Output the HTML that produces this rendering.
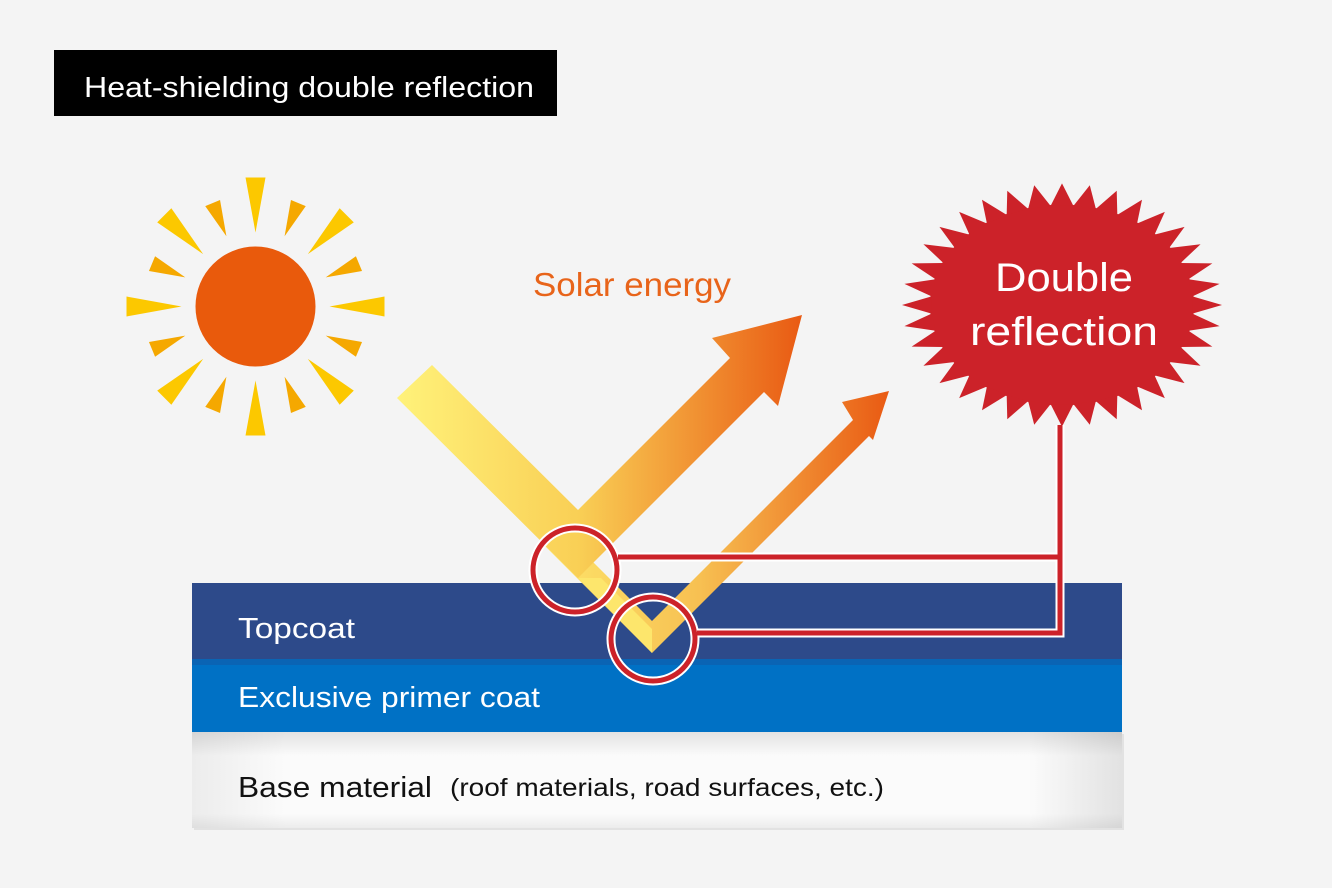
<!DOCTYPE html>
<html><head><meta charset="utf-8"><style>
html,body{margin:0;padding:0;background:#f4f4f4;}
svg{display:block;font-family:"Liberation Sans",sans-serif;}
</style></head><body>
<svg width="1332" height="888" viewBox="0 0 1332 888" xmlns="http://www.w3.org/2000/svg">
<defs>
<linearGradient id="ag" x1="0" y1="0" x2="1" y2="0">
<stop offset="0" stop-color="#fff27a"/><stop offset="0.45" stop-color="#f9cf55"/><stop offset="1" stop-color="#e95a13"/>
</linearGradient>
<linearGradient id="ag2" x1="0" y1="0" x2="1" y2="0">
<stop offset="0" stop-color="#fde46a"/><stop offset="0.45" stop-color="#f7c052"/><stop offset="1" stop-color="#e95a13"/>
</linearGradient>
<linearGradient id="bg" x1="0" y1="0" x2="1" y2="0">
<stop offset="0" stop-color="#ececec"/><stop offset="0.1" stop-color="#fbfbfb"/><stop offset="0.9" stop-color="#fbfbfb"/><stop offset="1" stop-color="#e2e2e2"/>
</linearGradient>
<linearGradient id="bgv" x1="0" y1="0" x2="0" y2="1">
<stop offset="0" stop-color="#000" stop-opacity="0.1"/><stop offset="0.25" stop-color="#000" stop-opacity="0"/><stop offset="0.85" stop-color="#000" stop-opacity="0"/><stop offset="1" stop-color="#000" stop-opacity="0.06"/>
</linearGradient>
<polygon id="spk" points="130.4,-11.4 160,0 130.4,11.4"/>
<polygon id="lr" points="-10,-129 10,-129 0,-74"/>
<polygon id="sr" points="-8,-112 8,-112 0,-76"/>
</defs>
<rect width="1332" height="888" fill="#f4f4f4"/>
<rect x="54" y="50" width="503" height="66" fill="#000"/>
<text x="84" y="97" fill="#fff" font-size="29" textLength="450" lengthAdjust="spacingAndGlyphs">Heat-shielding double reflection</text>
<g transform="translate(255.5,306.5)">
<g fill="#fcc800">
<use href="#lr" transform="rotate(0)"/><use href="#lr" transform="rotate(45)"/><use href="#lr" transform="rotate(90)"/><use href="#lr" transform="rotate(135)"/>
<use href="#lr" transform="rotate(180)"/><use href="#lr" transform="rotate(225)"/><use href="#lr" transform="rotate(270)"/><use href="#lr" transform="rotate(315)"/>
</g>
<g fill="#f5a800">
<use href="#sr" transform="rotate(22.5)"/><use href="#sr" transform="rotate(67.5)"/><use href="#sr" transform="rotate(112.5)"/><use href="#sr" transform="rotate(157.5)"/>
<use href="#sr" transform="rotate(202.5)"/><use href="#sr" transform="rotate(247.5)"/><use href="#sr" transform="rotate(292.5)"/><use href="#sr" transform="rotate(337.5)"/>
</g>
<circle r="60" fill="#e95a0c"/>
</g>
<text x="533" y="296" fill="#e8641a" font-size="33" textLength="198" lengthAdjust="spacingAndGlyphs">Solar energy</text>
<g transform="translate(1062,305) scale(1,0.76)" fill="#cc2229">
<circle r="132"/>
<use href="#spk" transform="rotate(0)"/><use href="#spk" transform="rotate(10)"/><use href="#spk" transform="rotate(20)"/><use href="#spk" transform="rotate(30)"/>
<use href="#spk" transform="rotate(40)"/><use href="#spk" transform="rotate(50)"/><use href="#spk" transform="rotate(60)"/><use href="#spk" transform="rotate(70)"/>
<use href="#spk" transform="rotate(80)"/><use href="#spk" transform="rotate(90)"/><use href="#spk" transform="rotate(100)"/><use href="#spk" transform="rotate(110)"/>
<use href="#spk" transform="rotate(120)"/><use href="#spk" transform="rotate(130)"/><use href="#spk" transform="rotate(140)"/><use href="#spk" transform="rotate(150)"/>
<use href="#spk" transform="rotate(160)"/><use href="#spk" transform="rotate(170)"/><use href="#spk" transform="rotate(180)"/><use href="#spk" transform="rotate(190)"/>
<use href="#spk" transform="rotate(200)"/><use href="#spk" transform="rotate(210)"/><use href="#spk" transform="rotate(220)"/><use href="#spk" transform="rotate(230)"/>
<use href="#spk" transform="rotate(240)"/><use href="#spk" transform="rotate(250)"/><use href="#spk" transform="rotate(260)"/><use href="#spk" transform="rotate(270)"/>
<use href="#spk" transform="rotate(280)"/><use href="#spk" transform="rotate(290)"/><use href="#spk" transform="rotate(300)"/><use href="#spk" transform="rotate(310)"/>
<use href="#spk" transform="rotate(320)"/><use href="#spk" transform="rotate(330)"/><use href="#spk" transform="rotate(340)"/><use href="#spk" transform="rotate(350)"/>
</g>
<text x="995" y="291" fill="#fff" font-size="40" textLength="138" lengthAdjust="spacingAndGlyphs">Double</text>
<text x="970" y="345" fill="#fff" font-size="40" textLength="188" lengthAdjust="spacingAndGlyphs">reflection</text>
<rect x="194" y="734" width="930" height="96" fill="#000" opacity="0.07"/>
<rect x="192" y="732" width="930" height="96" fill="url(#bg)"/>
<rect x="192" y="732" width="930" height="96" fill="url(#bgv)"/>
<rect x="192" y="583" width="930" height="77" fill="#2d4a8a"/>
<rect x="192" y="659" width="930" height="73" fill="#0071c5"/>
<rect x="192" y="659" width="930" height="6" fill="#0a64b4"/>
<text x="238" y="638" fill="#fff" font-size="29" textLength="117" lengthAdjust="spacingAndGlyphs">Topcoat</text>
<text x="238" y="707" fill="#fff" font-size="29" textLength="302" lengthAdjust="spacingAndGlyphs">Exclusive primer coat</text>
<text x="238" y="797" fill="#111" font-size="29" textLength="194" lengthAdjust="spacingAndGlyphs">Base material</text>
<text x="450" y="796" fill="#111" font-size="25" textLength="434" lengthAdjust="spacingAndGlyphs">(roof materials, road surfaces, etc.)</text>
<polygon fill="url(#ag2)" points="545,546 577,546 652,621 853,420 842,402 889,391 873,440 869,436 652,653"/>
<polygon fill="url(#ag)" points="397,398 432,365 578,510 730,358 712,338 802,315 778,406 764,392 578,578"/>
<polygon fill="#fde66c" points="578,578 601,578 652,629 652,653"/>
<g fill="none">
<path d="M618,557 H1060 V425 M697,633 H1060 V557" stroke="#fff" stroke-width="9"/>
<circle cx="575" cy="570" r="42" stroke="#fff" stroke-width="9"/>
<circle cx="653" cy="639" r="42" stroke="#fff" stroke-width="9"/>
<path d="M618,557 H1060 V425 M697,633 H1060 V557" stroke="#cc2229" stroke-width="5"/>
<circle cx="575" cy="570" r="42" stroke="#cc2229" stroke-width="5"/>
<circle cx="653" cy="639" r="42" stroke="#cc2229" stroke-width="5"/>
</g>
</svg>
</body></html>
